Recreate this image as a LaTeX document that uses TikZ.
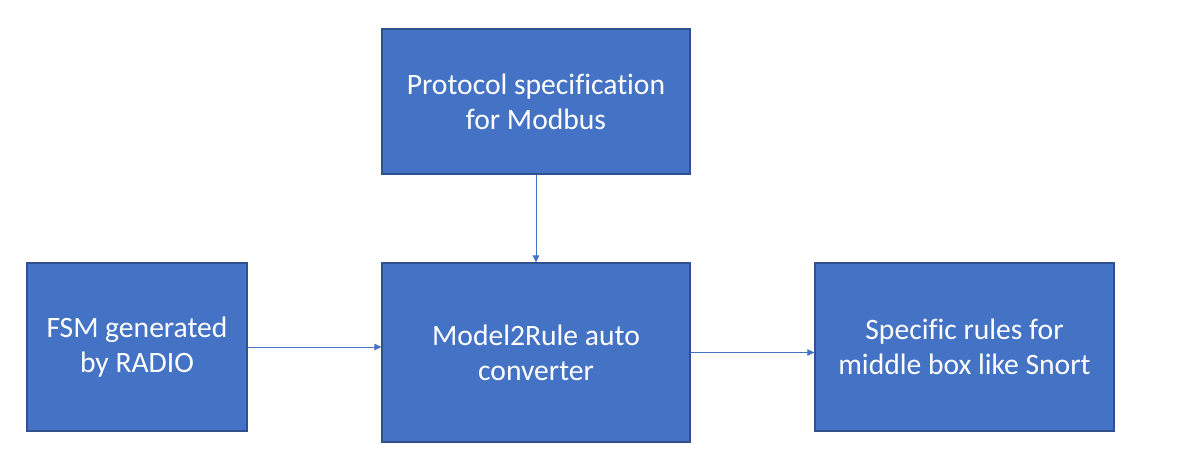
\documentclass[tikz,border=0pt]{standalone}
\usepackage{fontspec}
\setmainfont[Ligatures=NoCommon]{Carlito}
\usetikzlibrary{arrows.meta, positioning}

\definecolor{boxblue}{HTML}{4472C4}
\definecolor{boxedge}{HTML}{2F528F}

\begin{document}
\begin{tikzpicture}[
    x=1pt, y=-1pt,
    block/.style={rectangle, fill=boxblue, draw=boxedge, line width=1.3pt,
        text=white, align=center, inner sep=0pt,
        font=\fontsize{29.6}{35}\selectfont},
    conn/.style={boxblue, line width=1pt, -{Triangle[length=7pt,width=6.5pt]}}
]

% -------- Canvas --------
\useasboundingbox (0,0) rectangle (1182,468);

% -------- Blocks --------
\node[block, minimum width=308pt, minimum height=145pt] (spec) at (536,101.5)
    {Protocol specification\\for Modbus};
\node[block, minimum width=220pt, minimum height=168pt] (fsm) at (137,347)
    {FSM generated\\by RADIO};
\node[block, minimum width=308pt, minimum height=179pt] (conv) at (536,352.5)
    {Model2Rule auto\\converter};
\node[block, minimum width=299pt, minimum height=168pt] (rules) at (964.5,347)
    {Specific rules for\\middle box like Snort};

% -------- Connectors --------
\draw[conn] (spec.south) -- (conv.north);
\draw[conn] (fsm.east) -- (fsm.east -| conv.west);
\draw[conn] (conv.east) -- (conv.east -| rules.west);

\end{tikzpicture}
\end{document}
